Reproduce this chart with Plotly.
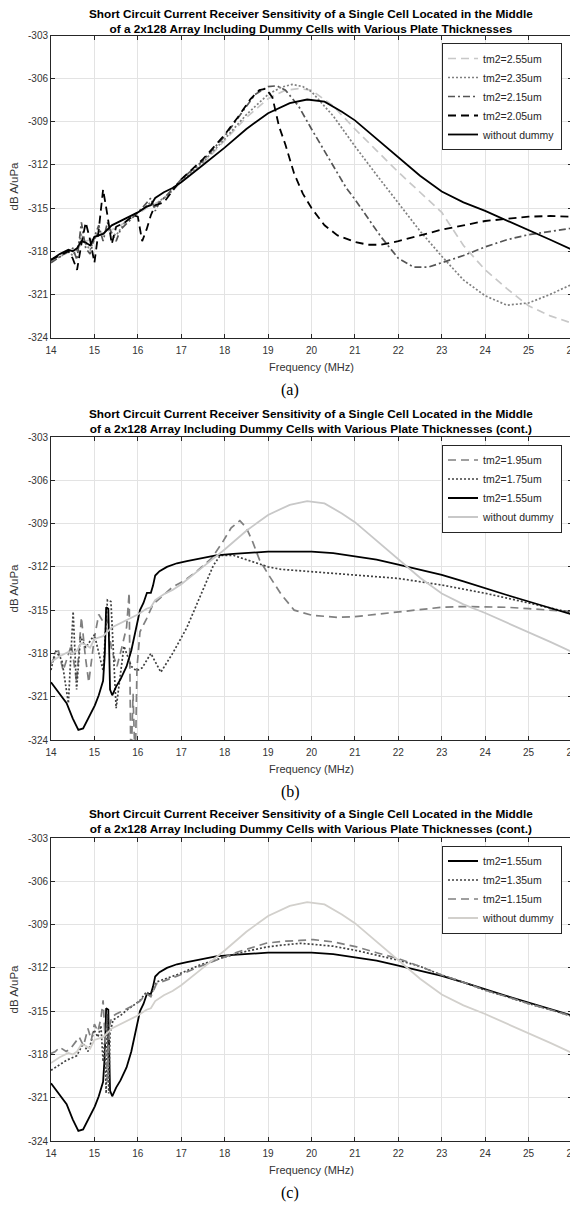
import plotly.graph_objects as go

# The page body adds an 8px margin, so the figure is drawn 8px smaller and
# all screen positions are converted into figure coordinates.
OFF = 8
W, H = 578 - OFF, 1207 - OFF

# ---------------- data ----------------
# shared "without dummy" curve
F_ND = [14.0,14.2,14.4,14.5,14.6,14.7,14.8,14.9,15.0,15.2,15.4,15.6,15.8,16.0,16.2,16.3,16.4,16.6,16.8,17.0,17.5,18.0,18.5,19.0,19.5,19.9,20.3,20.7,21.0,21.5,22.0,22.5,23.0,23.5,24.0,24.5,25.0,25.5,26.0]
V_ND = [-318.6,-318.2,-317.9,-318.0,-317.8,-317.3,-317.4,-317.6,-317.0,-316.8,-316.2,-315.9,-315.6,-315.3,-314.9,-314.8,-314.3,-313.9,-313.6,-313.2,-312.0,-310.8,-309.5,-308.4,-307.7,-307.45,-307.6,-308.3,-308.9,-310.2,-311.5,-312.75,-313.85,-314.6,-315.2,-315.85,-316.5,-317.2,-317.9]

# panel (a)
F_255 = [14.0,14.2,14.4,14.6,14.8,15.0,15.2,15.4,15.6,15.8,16.0,16.2,16.4,16.6,16.8,17.0,17.5,18.0,18.5,19.0,19.4,19.7,20.0,20.5,21.0,21.5,22.0,22.5,23.0,23.5,24.0,24.5,25.0,25.5,26.0]
V_255 = [-318.7,-318.3,-318.1,-317.8,-317.3,-317.1,-316.7,-316.5,-316.2,-315.8,-315.4,-315.0,-314.7,-314.3,-313.8,-313.2,-311.9,-310.3,-308.7,-307.4,-306.8,-306.7,-306.8,-307.9,-309.5,-311.0,-312.5,-313.9,-315.3,-317.6,-319.3,-320.6,-321.8,-322.5,-323.0]

F_235 = [14.0,14.2,14.4,14.5,14.6,14.7,14.8,14.9,15.0,15.1,15.2,15.3,15.4,15.5,15.7,15.9,16.1,16.3,16.4,16.5,16.7,17.0,17.5,18.0,18.5,19.0,19.3,19.55,19.8,20.0,20.5,21.0,21.5,22.0,22.5,23.0,23.5,24.0,24.5,25.0,25.5,26.0]
V_235 = [-318.7,-318.4,-318.0,-318.3,-317.9,-316.8,-317.5,-317.9,-317.2,-316.6,-316.9,-316.4,-316.7,-316.9,-316.0,-315.5,-315.1,-314.6,-315.0,-314.5,-314.1,-313.1,-311.8,-310.2,-308.5,-307.1,-306.6,-306.4,-306.55,-306.9,-308.6,-310.7,-312.7,-314.65,-316.6,-318.35,-320.0,-321.1,-321.75,-321.6,-321.0,-320.3]

F_215 = [14.0,14.15,14.3,14.5,14.6,14.7,14.8,14.9,15.0,15.1,15.2,15.3,15.4,15.5,15.6,15.7,15.9,16.1,16.3,16.4,16.5,16.7,17.0,17.5,18.0,18.4,18.7,19.0,19.2,19.4,19.7,20.0,20.4,20.8,21.0,21.3,21.6,22.0,22.35,22.7,23.0,23.5,24.0,24.5,25.0,25.5,26.0]
V_215 = [-318.8,-318.5,-318.2,-317.8,-318.6,-316.0,-317.8,-318.2,-317.0,-316.2,-317.3,-316.0,-316.8,-317.3,-316.5,-316.2,-315.6,-315.0,-314.3,-315.2,-314.6,-314.0,-313.0,-311.7,-310.0,-308.3,-307.1,-306.55,-306.5,-306.8,-307.9,-309.5,-311.6,-313.6,-314.4,-315.7,-317.0,-318.5,-319.1,-319.1,-318.8,-318.3,-317.7,-317.2,-316.85,-316.6,-316.4]

F_205 = [14.0,14.2,14.4,14.5,14.6,14.7,14.8,14.9,15.0,15.1,15.2,15.3,15.4,15.5,15.7,15.9,16.0,16.1,16.2,16.3,16.4,16.6,16.8,17.0,17.5,18.0,18.3,18.6,18.8,18.95,19.1,19.25,19.4,19.6,19.8,20.0,20.3,20.6,21.0,21.3,21.6,22.0,22.5,23.0,23.5,24.0,24.5,25.0,25.5,26.0]
V_205 = [-318.6,-318.3,-318.0,-318.5,-319.3,-317.5,-316.0,-317.2,-318.8,-316.5,-313.7,-315.5,-317.5,-316.3,-316.0,-315.5,-315.6,-317.3,-316.5,-315.5,-314.8,-314.6,-313.8,-313.0,-311.6,-309.9,-308.7,-307.4,-306.8,-306.7,-307.3,-309.3,-310.6,-312.6,-314.0,-315.0,-316.2,-316.9,-317.35,-317.55,-317.55,-317.3,-316.9,-316.5,-316.2,-315.9,-315.75,-315.6,-315.55,-315.6]

# panel (b)
F_195 = [14.0,14.17,14.28,14.47,14.59,14.7,14.79,14.87,15.0,15.1,15.2,15.28,15.4,15.52,15.63,15.74,15.8,15.84,15.89,15.94,15.98,16.05,16.2,16.35,16.5,16.8,17.1,17.4,17.7,17.95,18.15,18.35,18.5,18.65,18.8,19.0,19.3,19.6,20.0,20.6,21.0,21.5,22.0,22.5,23.0,23.5,24.0,24.5,25.0,25.5,26.0]
V_195 = [-318.7,-317.8,-319.2,-317.4,-320.0,-315.5,-318.2,-320.0,-316.9,-315.3,-315.8,-315.5,-317.8,-318.9,-317.6,-316.2,-313.8,-326.0,-320.8,-326.0,-319.0,-316.5,-315.6,-314.6,-314.2,-313.4,-312.9,-312.2,-311.4,-310.3,-309.3,-308.8,-309.3,-310.3,-311.5,-312.5,-313.9,-315.0,-315.35,-315.5,-315.45,-315.3,-315.1,-314.95,-314.8,-314.75,-314.75,-314.8,-314.9,-315.0,-315.1]

F_175 = [14.0,14.1,14.25,14.4,14.51,14.59,14.68,14.8,15.0,15.2,15.3,15.38,15.5,15.68,15.85,15.97,16.1,16.3,16.53,16.8,17.13,17.4,17.59,17.74,17.9,18.2,18.6,19.0,19.3,20.0,21.0,22.0,23.0,24.0,25.0,26.0]
V_175 = [-319.15,-317.8,-318.45,-321.45,-315.1,-320.5,-316.84,-317.6,-316.7,-319.2,-314.3,-314.4,-321.8,-317.5,-318.9,-319.2,-319.0,-318.0,-319.3,-318.0,-316.2,-314.3,-312.9,-311.9,-311.2,-311.2,-311.6,-312.0,-312.17,-312.33,-312.56,-312.8,-313.26,-313.83,-314.5,-315.2]

F_155 = [14.0,14.2,14.36,14.5,14.63,14.74,14.9,15.01,15.1,15.2,15.24,15.27,15.32,15.36,15.41,15.5,15.6,15.74,15.85,15.97,16.05,16.13,16.21,16.3,16.35,16.4,16.5,16.67,16.9,17.13,17.43,17.8,18.2,18.6,19.0,19.5,20.0,20.5,21.0,21.5,22.0,22.5,23.0,23.5,24.0,24.5,25.0,25.5,26.0]
V_155 = [-320.0,-320.8,-321.45,-322.5,-323.3,-323.2,-322.3,-321.6,-320.9,-319.9,-318.0,-314.8,-314.9,-320.5,-320.9,-320.3,-319.8,-318.9,-317.8,-316.1,-315.0,-314.5,-313.8,-313.8,-313.3,-312.6,-312.3,-312.0,-311.75,-311.6,-311.4,-311.2,-311.1,-311.0,-310.95,-310.95,-310.95,-311.05,-311.25,-311.5,-311.85,-312.2,-312.55,-313.0,-313.5,-313.95,-314.4,-314.85,-315.3]

# panel (c)
F_135 = [14.0,14.2,14.36,14.59,14.74,14.85,14.9,14.99,15.08,15.15,15.2,15.24,15.27,15.3,15.33,15.36,15.43,15.6,15.74,15.9,16.05,16.2,16.3,16.43,16.7,16.97,17.43,18.0,18.5,18.97,19.4,19.74,20.04,20.5,21.04,21.5,22.04,22.5,23.0,23.5,24.0,24.5,25.0,25.5,26.0]
V_135 = [-319.1,-318.7,-318.4,-318.1,-317.25,-317.8,-317.4,-316.3,-316.8,-316.0,-318.5,-317.0,-320.7,-315.2,-320.7,-316.5,-315.6,-315.3,-314.94,-314.6,-314.25,-313.67,-313.9,-312.98,-312.7,-312.4,-311.8,-311.25,-310.85,-310.55,-310.4,-310.3,-310.37,-310.5,-310.8,-311.1,-311.5,-311.9,-312.5,-313.0,-313.55,-314.0,-314.48,-314.9,-315.35]

F_115 = [14.0,14.1,14.2,14.35,14.45,14.55,14.65,14.75,14.85,14.93,15.0,15.08,15.15,15.2,15.25,15.3,15.35,15.4,15.5,15.7,15.9,16.05,16.2,16.3,16.43,16.7,16.97,17.43,18.0,18.3,18.97,19.4,19.74,20.04,20.5,21.04,21.5,22.04,22.5,23.0,23.5,24.0,24.5,25.0,25.5,26.0]
V_115 = [-317.94,-317.8,-317.5,-317.8,-317.6,-317.2,-316.8,-317.4,-316.2,-317.0,-315.9,-316.4,-315.5,-314.25,-317.0,-320.0,-316.0,-315.4,-315.2,-314.9,-314.6,-314.3,-313.8,-314.0,-313.1,-312.8,-312.5,-311.9,-311.25,-310.9,-310.28,-310.15,-310.1,-310.04,-310.2,-310.55,-310.95,-311.4,-311.9,-312.5,-313.0,-313.55,-314.0,-314.48,-314.9,-315.35]

X_TICKS = list(range(14, 27))
Y_TICKS = list(range(-324, -302, 3))
Y_TICKTEXT = [str(v) for v in Y_TICKS]
TITLE_1 = "Short Circuit Current Receiver Sensitivity of a Single Cell Located in the Middle"
TITLE_2 = ["of a 2x128 Array Including Dummy Cells with Various Plate Thicknesses",
           "of a 2x128 Array Including Dummy Cells with Various Plate Thicknesses (cont.)",
           "of a 2x128 Array Including Dummy Cells with Various Plate Thicknesses (cont.)"]
CAPTIONS = ["(a)", "(b)", "(c)"]

# ---------------- layout geometry (screen pixels) ----------------
PX_L, PX_R = 51, 572
PANELS = [(35.5, 337.5), (437, 740), (838, 1141)]  # top/bottom pixel of plot areas
def py(p):
    return (H - (p - OFF)) / H
def px(p):
    return (p - OFF) / W

FONT = "Liberation Sans, Arial, Helvetica, sans-serif"
DASH = "8px,5px"
DOT = "2px,2px"
DASHDOT = "7px,3px,2px,3px"
fig = go.Figure()

def add(panel, x, y, name, color, dash, width, legend):
    xa = "x" if panel == 0 else f"x{panel+1}"
    ya = "y" if panel == 0 else f"y{panel+1}"
    fig.add_trace(go.Scatter(x=x, y=y, name=name, mode="lines",
                             line=dict(color=color, dash=dash, width=width),
                             xaxis=xa, yaxis=ya, legend=legend))

# (a)
add(0, F_255, V_255, "tm2=2.55um", "#c8c8c8", DASH, 1.7, "legend")
add(0, F_235, V_235, "tm2=2.35um", "#808080", DOT, 1.7, "legend")
add(0, F_215, V_215, "tm2=2.15um", "#555555", DASHDOT, 1.7, "legend")
add(0, F_205, V_205, "tm2=2.05um", "#000000", DASH, 1.8, "legend")
add(0, F_ND, V_ND, "without dummy", "#000000", "solid", 1.8, "legend")
# (b)
add(1, F_195, V_195, "tm2=1.95um", "#808080", DASH, 1.7, "legend2")
add(1, F_175, V_175, "tm2=1.75um", "#404040", DOT, 1.7, "legend2")
add(1, F_155, V_155, "tm2=1.55um", "#000000", "solid", 1.8, "legend2")
add(1, F_ND, V_ND, "without dummy", "#c8c8c8", "solid", 1.8, "legend2")
# (c)
add(2, F_155, V_155, "tm2=1.55um", "#000000", "solid", 1.8, "legend3")
add(2, F_135, V_135, "tm2=1.35um", "#404040", DOT, 1.7, "legend3")
add(2, F_115, V_115, "tm2=1.15um", "#808080", DASH, 1.7, "legend3")
add(2, F_ND, V_ND, "without dummy", "#d2d0cc", "solid", 1.8, "legend3")

axis_common = dict(showgrid=True, gridcolor="#e3e3e3", gridwidth=1,
                   showline=True, linecolor="#262626", linewidth=1, mirror="ticks",
                   ticks="inside", ticklen=4, tickcolor="#262626",
                   tickfont=dict(family=FONT, size=10, color="#333333"),
                   zeroline=False, automargin=False)

layout = dict(width=W, height=H, autosize=False,
              margin=dict(l=0, r=0, t=0, b=0, autoexpand=False),
              paper_bgcolor="white", plot_bgcolor="white",
              font=dict(family=FONT, color="#262626"))

annotations = []
for i, (top, bot) in enumerate(PANELS):
    sx = "" if i == 0 else str(i + 1)
    layout["xaxis" + sx] = dict(axis_common, domain=[px(PX_L), px(PX_R)], anchor="y" + sx,
                                range=[14, 26], tickvals=X_TICKS, ticklabelstandoff=3,
                                title=dict(text="Frequency (MHz)", standoff=8,
                                           font=dict(family=FONT, size=11, color="#333333")))
    layout["yaxis" + sx] = dict(axis_common, domain=[py(bot), py(top)], anchor="x" + sx,
                                range=[-324, -303], tickvals=Y_TICKS, ticktext=Y_TICKTEXT,
                                title=dict(text="dB A/uPa", standoff=6,
                                           font=dict(family=FONT, size=11.5, color="#333333")))
    annotations.append(dict(text="<b>" + TITLE_1 + "<br>" + TITLE_2[i] + "</b>",
                            x=px(311), y=py(max(top - 16, 22)),
                            xref="paper", yref="paper", showarrow=False,
                            xanchor="center", yanchor="middle", align="center",
                            font=dict(family=FONT, size=11.8, color="#000000")))
    annotations.append(dict(text=CAPTIONS[i], x=px(290), y=py(bot + 52),
                            xref="paper", yref="paper", showarrow=False,
                            xanchor="center", yanchor="middle",
                            font=dict(family="Liberation Serif, Times New Roman, serif", size=16, color="#000000")))
    lg = "legend" if i == 0 else f"legend{i+1}"
    layout[lg] = dict(x=px(562), y=py(top + 7.5), xanchor="right", yanchor="top",
                      xref="paper", yref="paper",
                      bgcolor="white", bordercolor="#262626", borderwidth=1,
                      font=dict(family=FONT, size=10.5, color="#262626"),
                      tracegroupgap=0, itemwidth=30)

layout["annotations"] = annotations
layout["showlegend"] = True
fig.update_layout(**layout)
fig.write_html("out.html")
